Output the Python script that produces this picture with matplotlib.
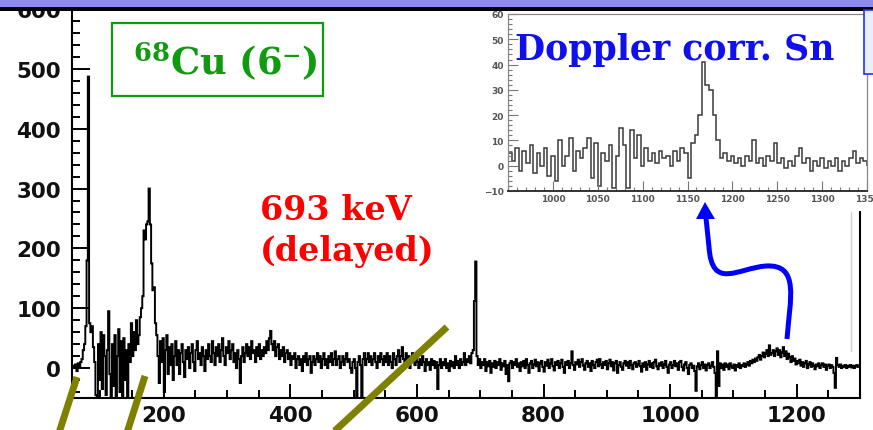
import numpy as np
import matplotlib
matplotlib.use("Agg")
import matplotlib.pyplot as plt
from matplotlib.patches import Rectangle, Polygon, PathPatch
from matplotlib.path import Path
from matplotlib.ticker import MultipleLocator

# ---------------- data ----------------
main_bin_start = 56      # keV
main_bin_width = 2       # keV

counts_056_154 = [4, 0, 6, -5, 8, 2, 10,
                  15, 30, 40, 70, 180,
                  487, 75, 60, 70, 35, 10, -45, -50, 40, -20,
                  60, -35, 55, 20, -45, 30, 95, -10, -50, 40,
                  -30, 55, -50, 20, 65, -40, 45, -50, 50, -20,
                  30, -50, 40, 10, 75, 20, 60, 30]
counts_156_254 = [80, 40, 55, 85, 100, 120, 230, 215, 240, 245,
                  300, 240, 175, 130, 135, 75, 55, 20, -25, 45,
                  10, 50, -40, 30, 55, -10, 35, 5, 40, -20,
                  20, 45, 5, 30, -10, 25, 40, 10, -15, 30,
                  15, 35, 0, 25, 40, 10, -5, 30, 45, 15]
counts_256_354 = [25, 5, 35, 20, -5, 30, 15, 40, 20, 10,
                  45, 25, 5, 35, 20, 40, 10, 30, 50, 20,
                  5, 35, 25, 45, 15, 30, 40, 10, 25, 0,
                  30, 15, -25, 20, 35, 10, 25, 40, 20, 35,
                  15, 45, 25, 30, 10, 35, 20, 40, 15, 30]
counts_356_454 = [20, 35, 25, 45, 30, 50, 62, 40, 30, 45,
                  20, 35, 40, 15, 30, 20, 35, 10, 25, 30,
                  15, 25, 5, 20, 15, 25, 0, 15, 20, 5,
                  15, -5, 20, 10, 25, 5, 15, 20, -8, 10,
                  20, 5, 15, 25, 10, 20, 0, 15, 25, 5]
counts_456_554 = [15, 0, 20, 10, 25, 5, 15, 28, 5, 15,
                  20, 0, 10, 20, 5, 15, 25, 10, 15, 0,
                  -8, 10, 15, 0, -50, 10, 20, 5, -50, 15,
                  25, 5, 15, 25, 10, 20, 5, 15, 25, 10,
                  0, 20, 10, 25, 15, 5, 20, 10, 25, 5]
counts_556_654 = [20, 10, 0, 25, 15, 5, 20, 30, 10, 20,
                  35, 15, 5, 25, 10, 20, 0, 15, 25, 10,
                  5, 20, 10, 0, 15, 5, 20, 10, -5, 15,
                  5, 10, -3, 15, 5, 12, 0, 10, -35, 5,
                  15, 0, 10, 5, 15, 0, 8, -5, 12, 3]
counts_656_754 = [10, 0, 20, 5, 12, 0, 15, 5, 10, 25,
                  5, 15, 10, 20, 8, 25, 30, 112, 178, 20,
                  5, 15, 0, 10, 5, 15, -5, 10, 3, 12,
                  -8, 8, 2, 12, 0, 10, 5, 15, -3, 8,
                  3, 12, -10, 5, -22, 8, 12, 0, 10, 5]
counts_756_854 = [15, 2, 8, -5, 10, 3, 12, 0, 15, 5,
                  -8, 8, 12, 0, 6, 14, 3, 10, -5, 8,
                  12, 2, -6, 10, 4, 14, 0, 8, 15, 3,
                  -4, 10, 5, 12, 0, 8, 14, 2, -8, 10,
                  5, 12, 0, 8, 28, 5, -3, 10, 6, 14]
counts_856_954 = [2, 10, 15, 4, -3, 8, 12, 2, 8, -5,
                  12, 5, 0, 10, 14, 3, 15, 6, 0, 10,
                  5, 12, -2, 8, 14, 3, 10, -4, 8, 12,
                  -8, 5, 10, 2, -3, 8, 12, 4, 10, 0,
                  12, 5, -2, 8, 10, 2, 6, 12, 3, -6]
counts_956_1054 = [8, 2, 10, -3, 6, 12, 2, 8, 0, 10,
                   14, 3, -2, 8, 4, 10, 0, 6, 12, 2,
                   -8, 6, 10, 0, 5, 12, 3, 8, -3, 10,
                   12, 2, -4, 6, 10, 0, -10, 5, 8, 0,
                   4, -5, -38, 3, 8, -2, 5, 10, 0, 6]
counts_1056_1154 = [-4, 5, 8, 0, 4, 10, 2, -8, -50, 28,
                    -30, 8, 0, 6, -3, 8, 2, 6, -2, 8,
                    3, 0, 6, -4, 5, 2, 8, 0, 5, 3,
                    8, 2, 6, 10, 4, 12, 8, 14, 10, 16,
                    12, 18, 22, 14, 20, 26, 18, 24, 30, 20]
counts_1156_1254 = [38, 22, 25, 30, 20, 28, 33, 22, 30, 18,
                    26, 35, 20, 28, 15, 24, 18, 10, 20, 12,
                    16, 6, 12, 8, 14, 4, 10, 2, 8, 12,
                    0, 6, 10, 2, 8, 4, -2, 6, 3, 8,
                    0, 5, 8, 2, 6, -3, 4, 6, 0, 5]
counts_1256_1298 = [2, -8, -33, 17, 5, 2, 6, 0, 4, 2,
                    5, 0, 4, 2, 5, 1, 4, 0, 3, 5, 2, 4]

inset_bin_start = 950
inset_bin_width = 4
inset_counts_950_1146 = [5, 2, 7, -2, 6, 1, 8, -3, 5, 0, 7, -4, 4, -6, 10, 0,
                         4, 11, -2, 6, 3, 7, 11, -5, 9, -8, 5, 2, 8, -9, 4, 15,
                         8, -9, 14, 3, 12, 0, 7, 2, 5, 1, 6, 3, 4, 0, 6, 2, 7, 5]
inset_counts_1150_1346 = [-5, 9, 12, 20, 41, 32, 30, 20, 10, 3, 5, 2, 4, 1, 3, 0,
                          4, 2, 10, 1, 3, 0, 4, 2, 9, 1, 3, -1, 2, 0, 4, 7,
                          1, 3, -2, 2, 0, 3, -1, 2, 0, 3, -2, 2, 0, 3, 6, 1, 3, 2]

main_xticks = [200, 400, 600, 800, 1000, 1200]
main_yticks = [0, 100, 200, 300, 400, 500, 600]
inset_xticks = [1000, 1050, 1100, 1150, 1200, 1250, 1300, 1350]
inset_yticks = [-10, 0, 10, 20, 30, 40, 50, 60]

label_isotope = r"$^{68}$Cu (6⁻)"
label_line1 = "693 keV"
label_line2 = "(delayed)"
label_inset = "Doppler corr. Sn"

# ---------------- figure ----------------
plt.rcParams['mathtext.fontset'] = 'custom'
plt.rcParams['mathtext.rm'] = 'DejaVu Serif:bold'
plt.rcParams['mathtext.it'] = 'DejaVu Serif:bold'
plt.rcParams['mathtext.bf'] = 'DejaVu Serif:bold'

W, H = 873, 431
fig = plt.figure(figsize=(W / 100, H / 100), dpi=100)
fig.patch.set_facecolor('white')


def fax(x0, y0, x1, y1):
    """pixel box (top-left origin) -> figure fraction rect"""
    return [x0 / W, (H - y1) / H, (x1 - x0) / W, (y1 - y0) / H]


# main axes
ax = fig.add_axes(fax(72, 10, 860, 399), zorder=1)
main_counts = np.array(counts_056_154 + counts_156_254 + counts_256_354 + counts_356_454 +
                       counts_456_554 + counts_556_654 + counts_656_754 + counts_756_854 +
                       counts_856_954 + counts_956_1054 + counts_1056_1154 +
                       counts_1156_1254 + counts_1256_1298, float)
main_edges = main_bin_start + main_bin_width * np.arange(len(main_counts) + 1)
ax.stairs(main_counts, main_edges, color='black', lw=1.4)
ax.set_xlim(55, 1300)
ax.set_ylim(-50, 600)
ax.set_xticks(main_xticks)
ax.set_yticks(main_yticks)
ax.xaxis.set_minor_locator(MultipleLocator(50))
ax.yaxis.set_minor_locator(MultipleLocator(20))
ax.tick_params(which='both', direction='in', top=False, right=False, width=1.4, color='black')
ax.tick_params(axis='y', which='major', length=13, pad=8)
ax.tick_params(axis='y', which='minor', length=6)
ax.tick_params(axis='x', which='major', length=10, pad=5)
ax.tick_params(axis='x', which='minor', length=6)
for lab in ax.get_xticklabels() + ax.get_yticklabels():
    lab.set_fontfamily('DejaVu Sans')
    lab.set_fontweight('bold')
    lab.set_fontsize(15.5)
    lab.set_color('#111111')
for sp in ax.spines.values():
    sp.set_linewidth(1.5)

# inset background panel
axbg = fig.add_axes(fax(485, 10, 873, 212), zorder=2)
axbg.set_xticks([])
axbg.set_yticks([])
for sp in axbg.spines.values():
    sp.set_visible(False)
axbg.set_facecolor('white')

# inset
axi = fig.add_axes(fax(508, 15, 867, 192), zorder=3)
inset_counts = np.array(inset_counts_950_1146 + inset_counts_1150_1346, float)
inset_edges = inset_bin_start + inset_bin_width * np.arange(len(inset_counts) + 1)
axi.stairs(inset_counts, inset_edges, color='#3a3a3a', lw=1.1)
axi.set_xlim(950, 1350)
axi.set_ylim(-10, 60)
axi.set_xticks(inset_xticks)
axi.set_yticks(inset_yticks)
axi.xaxis.set_minor_locator(MultipleLocator(10))
axi.yaxis.set_minor_locator(MultipleLocator(2))
axi.tick_params(which='both', direction='in', top=False, right=False, color='#777777', width=0.8)
axi.tick_params(which='major', length=7, labelsize=6.5, labelcolor='#555555')
axi.tick_params(which='minor', length=3)
axi.tick_params(axis='y', pad=3)
axi.tick_params(axis='x', pad=2)
for lab in axi.get_xticklabels() + axi.get_yticklabels():
    lab.set_fontweight('bold')
for sp in axi.spines.values():
    sp.set_color('#888888')
    sp.set_linewidth(0.9)
axi.spines['bottom'].set_color('#333333')
axi.spines['bottom'].set_linewidth(1.4)

# overlay for slide decorations (pixel coordinates)
ov = fig.add_axes([0, 0, 1, 1], zorder=4)
ov.set_xlim(0, W)
ov.set_ylim(H, 0)
ov.set_axis_off()

# top band
ov.add_patch(Rectangle((0, 0), W, 7.5, facecolor='#8c8cf0', edgecolor='none'))
ov.add_patch(Rectangle((0, 7.5), W, 4, facecolor='black', edgecolor='none'))
# light blue box at right
ov.add_patch(Rectangle((864, 11), 30, 64, facecolor='#e8efff', edgecolor='#2233ee', lw=1.2))
# faint grey vertical line
ov.plot([851, 851], [213, 352], color='#d0d0d0', lw=1)

# green isotope box
green = '#109a10'
ov.add_patch(Rectangle((112, 24), 211, 73, facecolor='white', edgecolor=green, lw=1.6))
ov.text(225, 75, label_isotope, color=green, fontsize=26.5, fontfamily='DejaVu Serif',
        fontweight='bold', ha='center', va='baseline')

# red label
ov.text(260, 220, label_line1, color='#ff0000', fontsize=24, fontfamily='DejaVu Serif',
        fontweight='bold', ha='left', va='baseline')
ov.text(260, 261, label_line2, color='#ff0000', fontsize=24, fontfamily='DejaVu Serif',
        fontweight='bold', ha='left', va='baseline')

# blue inset label
ov.text(515, 60, label_inset, color='#1010ee', fontsize=25, fontfamily='DejaVu Serif',
        fontweight='bold', ha='left', va='baseline')

# olive slanted bars
olive = '#808000'
for (x0, y0, x1, y1) in [(77, 378, 57, 440), (145, 377, 125, 440), (447, 328, 326, 440)]:
    ov.plot([x0, x1], [y0, y1], color=olive, lw=5, solid_capstyle='butt')

# blue curvy arrow
verts = [(787, 340), (790, 300), (800, 265), (766, 267),
         (738, 269), (712, 292), (709, 248), (706, 219)]
codes = [Path.MOVETO, Path.CURVE4, Path.CURVE4, Path.CURVE4,
         Path.CURVE4, Path.CURVE4, Path.CURVE4, Path.LINETO]
ov.add_patch(PathPatch(Path(verts, codes), facecolor='none', edgecolor='#0000ff', lw=3.6,
                       capstyle='butt'))
ov.add_patch(Polygon([(705, 203), (696, 220), (715, 220)], closed=True,
                     facecolor='#0000ff', edgecolor='none'))

fig.savefig('out.png', dpi=100)
